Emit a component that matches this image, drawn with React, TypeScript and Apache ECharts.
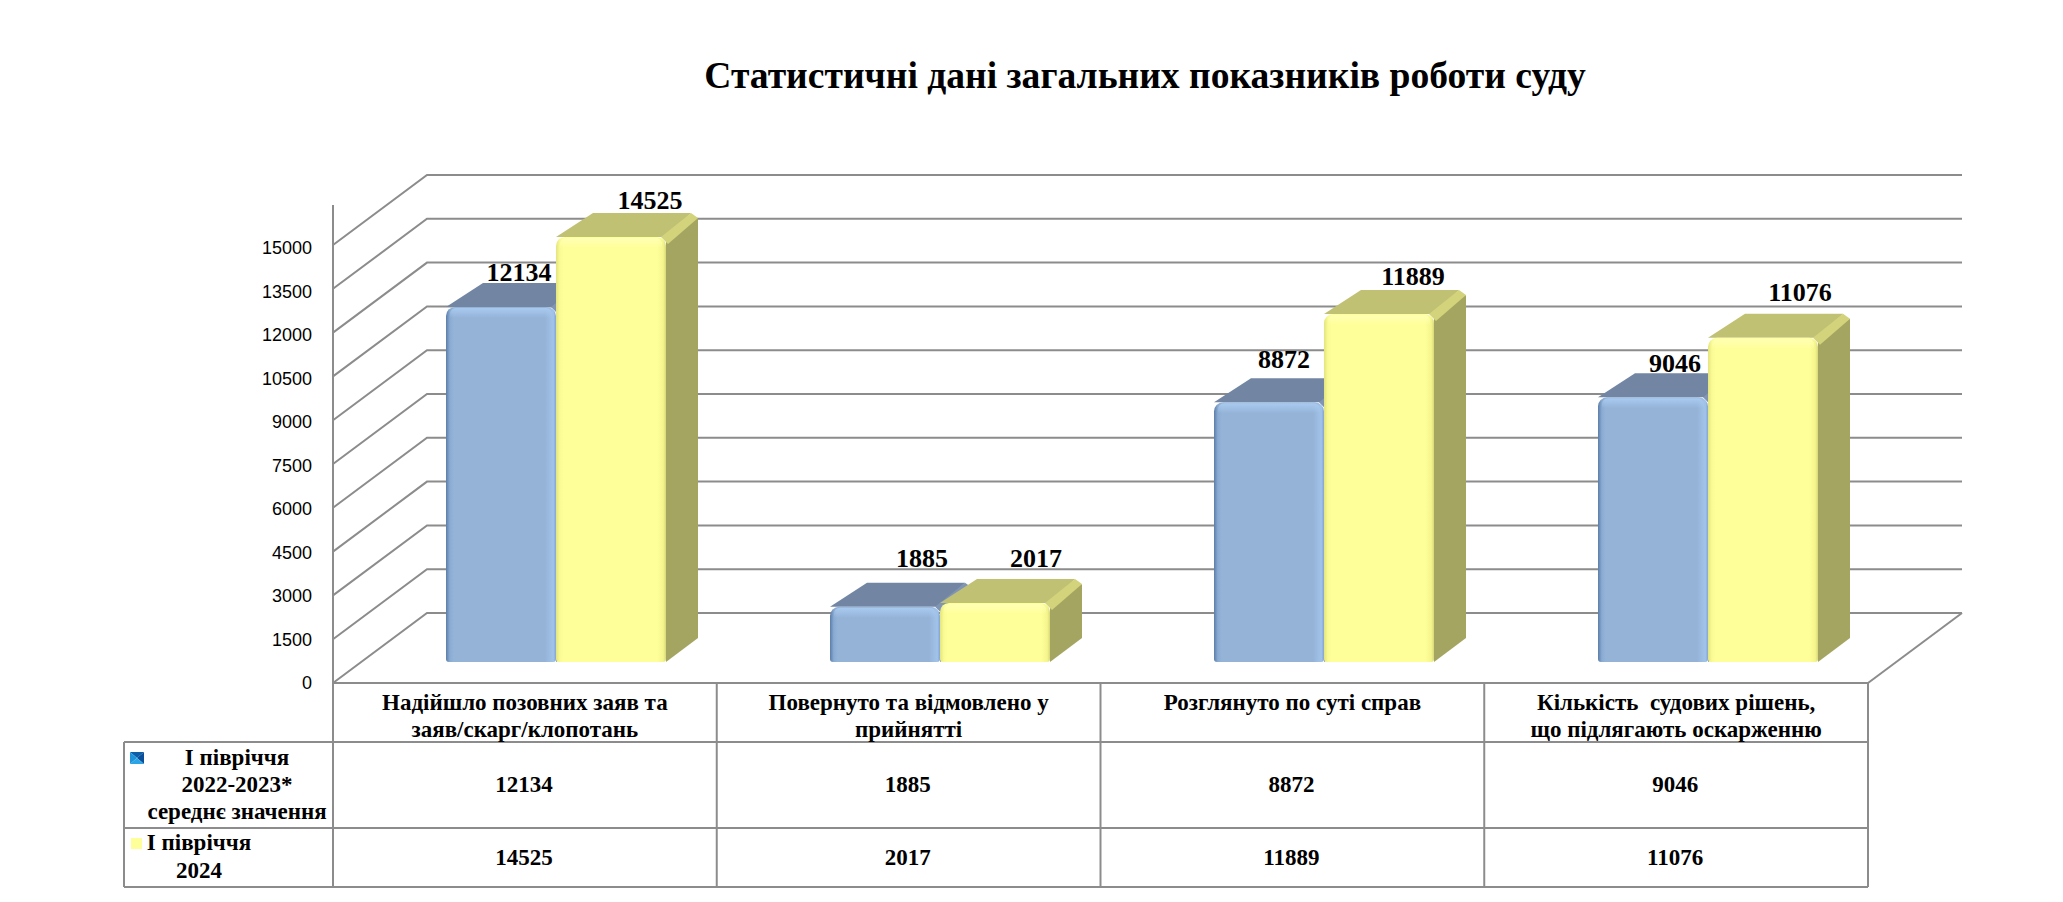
import React, { useEffect, useRef } from "react";
import * as echarts from "echarts";

const chartTitle = "Статистичні дані загальних показників роботи суду";
const categories = [
  "Надійшло позовних заяв та\nзаяв/скарг/клопотань",
  "Повернуто та відмовлено у\nприйнятті",
  "Розглянуто по суті справ",
  "Кількість  судових рішень,\nщо підлягають оскарженню",
];
const seriesPrev = [12134, 1885, 8872, 9046];
const seriesCurr = [14525, 2017, 11889, 11076];
const tickValues = [0, 1500, 3000, 4500, 6000, 7500, 9000, 10500, 12000, 13500, 15000];
const prevLegendLines = ["І півріччя", "2022-2023*", "середнє значення"];
const currLegendLines = ["І півріччя", "2024"];

// Hand-placed label offsets of the original chart, px from the front-face centre / back edge of the cap
const prevLabelNudge = [[18, -10], [37, -24], [15, -19], [22, -10]];
const currLabelNudge = [[39, -12], [41, -20], [34, -14], [37, -21]];

const SERIF = '"Liberation Serif", serif';
const GRID_LINE = "#8c8c8c";
const DEPTH_X = 94;
const DEPTH_Y = 70;
const BAR_W = 110;
const BAR_DX = 32;
const BAR_DY = 24;
const TABLE = { left: 124, x0: 333, x1: 1868, y0: 683, y1: 742, y2: 828, y3: 887 };

const lg = (x2: number, y2: number, stops: [number, string][]) =>
  new echarts.graphic.LinearGradient(0, 0, x2, y2, stops.map(([offset, color]) => ({ offset, color })));

const palettes = {
  prev: {
    front: [[0, "#5b7da8"], [0.035, "#8aabd2"], [0.07, "#95B3D7"], [0.9, "#95B3D7"], [0.975, "#a2c3ea"], [1, "#84a6d0"]] as [number, string][],
    rim: "#a9caf0",
    top: "#7286A4",
    side: "#69799a",
    join: "#8094b3",
  },
  curr: {
    front: [[0, "#e4e47e"], [0.035, "#fbfb96"], [0.07, "#FFFF99"], [0.92, "#FFFF99"], [0.975, "#f5f58e"], [1, "#d8d87a"]] as [number, string][],
    rim: "#ffffb4",
    top: "#C1C174",
    side: "#A5A562",
    join: "#d3d37c",
  },
};

function makeBar(offset: number, pal: typeof palettes.prev, nudges: number[][]) {
  return (params: any, api: any) => {
    const i = api.value(0);
    const v = api.value(1);
    const [cx, yt] = api.coord([i, v]);
    const [, yb] = api.coord([i, 0]);
    const xl = cx + offset;
    const xr = xl + BAR_W;
    const topPts = [[xl, yt], [xl + BAR_DX + 5, yt - BAR_DY], [xr + BAR_DX - 7, yt - BAR_DY], [xr, yt]];
    const sidePts = [[xr, yt], [xr + BAR_DX, yt - BAR_DY + 5], [xr + BAR_DX, yb - BAR_DY], [xr, yb]];
    const joinPts = [[xr - 5, yt], [xr + BAR_DX - 7, yt - BAR_DY], [xr + BAR_DX, yt - BAR_DY + 5], [xr + 2, yt + 7]];
    const n = nudges[params.dataIndex];
    return {
      type: "group",
      children: [
        { type: "polygon", shape: { points: topPts }, style: { fill: pal.top } },
        { type: "polygon", shape: { points: sidePts }, style: { fill: pal.side } },
        { type: "polygon", shape: { points: joinPts }, style: { fill: pal.join } },
        {
          type: "rect",
          shape: { x: xl, y: yt, width: BAR_W, height: yb - yt, r: [9, 9, 3, 3] },
          style: { fill: lg(1, 0, pal.front) },
        },
        {
          type: "rect",
          shape: { x: xl + 4, y: yt + 1, width: BAR_W - 8, height: 10, r: [6, 6, 0, 0] },
          style: { fill: lg(0, 1, [[0, pal.rim], [1, pal.rim + "00"]]) },
        },
        {
          type: "text",
          x: xl + BAR_W / 2 + n[0],
          y: yt - BAR_DY + n[1],
          z2: 5,
          style: {
            text: String(v),
            font: `bold 26px ${SERIF}`,
            fill: "#000",
            align: "center",
            textAlign: "center",
            verticalAlign: "middle",
            textVerticalAlign: "middle",
          },
        },
      ],
    };
  };
}

function renderFrame(params: any, api: any) {
  const v = api.value(0);
  const { x, width } = params.coordSys;
  const x1 = x + width;
  const [, y] = api.coord([0, v]);
  const lineStyle = { stroke: GRID_LINE, lineWidth: 2, fill: "none" };
  const children: any[] = [
    {
      type: "polyline",
      shape: { points: [[x, y], [x + DEPTH_X, y - DEPTH_Y], [x1 + DEPTH_X, y - DEPTH_Y]] },
      style: lineStyle,
    },
  ];
  if (v === 0) {
    children.push({
      type: "line",
      shape: { x1: x1 + DEPTH_X, y1: y - DEPTH_Y, x2: x1, y2: y },
      style: lineStyle,
    });
  }
  if (v === tickValues[tickValues.length - 1]) {
    const [, yBase] = api.coord([0, 0]);
    children.push({ type: "line", shape: { x1: x, y1: yBase, x2: x, y2: y - 40 }, style: lineStyle });
  }
  return { type: "group", children };
}

function tableGraphics() {
  const t = TABLE;
  const cellW = (t.x1 - t.x0) / categories.length;
  const ln = (x1: number, y1: number, x2: number, y2: number) => ({
    type: "line",
    shape: { x1, y1, x2, y2 },
    style: { stroke: GRID_LINE, lineWidth: 2 },
    silent: true,
  });
  const txt = (text: string, x: number, y: number, size: number) => ({
    type: "text",
    x,
    y,
    silent: true,
    style: {
      text,
      font: `bold ${size}px ${SERIF}`,
      fill: "#000",
      align: "center",
      textAlign: "center",
      verticalAlign: "middle",
      textVerticalAlign: "middle",
    },
  });
  const out: any[] = [
    ln(t.x0, t.y0, t.x1, t.y0),
    ln(t.left, t.y1, t.x1, t.y1),
    ln(t.left, t.y2, t.x1, t.y2),
    ln(t.left, t.y3, t.x1, t.y3),
    ln(t.left, t.y1, t.left, t.y3),
  ];
  for (let i = 0; i <= categories.length; i++) {
    const x = t.x0 + i * cellW;
    out.push(ln(x, t.y0, x, t.y3));
  }
  categories.forEach((_, i) => {
    const cx = t.x0 + (i + 0.5) * cellW - 1;
    out.push(txt(String(seriesPrev[i]), cx, 784, 23));
    out.push(txt(String(seriesCurr[i]), cx, 857, 23));
  });
  [757, 784, 811].forEach((y, i) => out.push(txt(prevLegendLines[i], 237, y, 23)));
  [842, 870].forEach((y, i) => out.push(txt(currLegendLines[i], 199, y, 23)));
  const sw = { x0: 130, y0: 752, x1: 144, y1: 764, cx: 137, cy: 758 };
  const tri = (pts: number[][], fill: string) => ({ type: "polygon", silent: true, shape: { points: pts }, style: { fill } });
  out.push(tri([[sw.x0, sw.y0], [sw.x1, sw.y0], [sw.cx, sw.cy]], "#0a5fa8"));
  out.push(tri([[sw.x1, sw.y0], [sw.x1, sw.y1], [sw.cx, sw.cy]], "#0b4f9a"));
  out.push(tri([[sw.x0, sw.y0], [sw.x0, sw.y1], [sw.cx, sw.cy]], "#1f93d8"));
  out.push(tri([[sw.x0, sw.y1], [sw.x1, sw.y1], [sw.cx, sw.cy]], "#2aa4e4"));
  out.push({
    type: "rect",
    shape: { x: 131, y: 838, width: 11, height: 11 },
    style: { fill: "#FFFF99" },
  });
  return out;
}

export default function App() {
  const ref = useRef<HTMLDivElement>(null);
  useEffect(() => {
    const chart = echarts.init(ref.current!, undefined, { renderer: "svg" });
    const valueAxisBase = { type: "value", min: 0, max: 15000, interval: 1500 };
    chart.setOption({
      animation: false,
      backgroundColor: "#fff",
      title: {
        text: chartTitle,
        left: 1140,
        top: 51,
        textAlign: "center",
        textStyle: { fontFamily: SERIF, fontWeight: "bold", fontSize: 37.6, color: "#000" },
      },
      grid: [
        { left: TABLE.x0, width: TABLE.x1 - TABLE.x0, top: 245, height: 438 },
        { left: 364, width: 1536, top: 223, height: 439 },
        { left: TABLE.x0, width: TABLE.x1 - TABLE.x0, top: 248, height: 435 },
      ],
      xAxis: [
        {
          type: "category",
          gridIndex: 0,
          data: categories,
          axisLine: { show: false },
          axisTick: { show: false },
          axisLabel: {
            interval: 0,
            margin: 6,
            fontFamily: SERIF,
            fontWeight: "bold",
            fontSize: 23,
            lineHeight: 27,
            color: "#000",
            verticalAlign: "top",
          },
        },
        { type: "category", gridIndex: 1, data: categories, show: false },
        { type: "category", gridIndex: 2, data: categories, show: false },
      ],
      yAxis: [
        { ...valueAxisBase, gridIndex: 0, show: false, splitLine: { show: false } },
        { ...valueAxisBase, gridIndex: 1, show: false, splitLine: { show: false } },
        {
          ...valueAxisBase,
          gridIndex: 2,
          axisLine: { show: false },
          axisTick: { show: false },
          splitLine: { show: false },
          axisLabel: {
            margin: 21,
            fontFamily: '"Liberation Sans", sans-serif',
            fontSize: 18,
            color: "#000",
            formatter: (v: number) => String(v),
          },
        },
      ],
      graphic: tableGraphics(),
      series: [
        {
          type: "custom",
          xAxisIndex: 0,
          yAxisIndex: 0,
          z: 1,
          silent: true,
          clip: false,
          encode: { y: 0 },
          data: tickValues.map((v) => [v]),
          renderItem: renderFrame,
        },
        {
          name: prevLegendLines.join(" "),
          type: "custom",
          xAxisIndex: 1,
          yAxisIndex: 1,
          z: 2,
          clip: false,
          encode: { x: 0, y: 1 },
          data: seriesPrev.map((v, i) => [i, v]),
          renderItem: makeBar(-BAR_W, palettes.prev, prevLabelNudge),
        },
        {
          name: currLegendLines.join(" "),
          type: "custom",
          xAxisIndex: 1,
          yAxisIndex: 1,
          z: 3,
          clip: false,
          encode: { x: 0, y: 1 },
          data: seriesCurr.map((v, i) => [i, v]),
          renderItem: makeBar(0, palettes.curr, currLabelNudge),
        },
      ],
    });
    return () => chart.dispose();
  }, []);
  return <div ref={ref} style={{ position: "absolute", left: 0, top: 0, width: 2063, height: 902 }} />;
}
